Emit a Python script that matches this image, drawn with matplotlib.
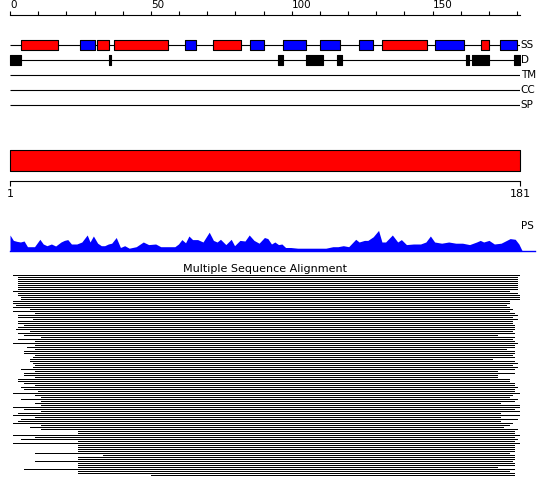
import numpy as np
import matplotlib
matplotlib.use("Agg")
from matplotlib import pyplot as plt

plt.rcParams["font.family"] = "DejaVu Sans"

seq_len = 181

# secondary structure: helices (red) and strands (blue), residue ranges
helix_start = [4, 31, 37, 72, 132, 167]
helix_end = [17, 35, 56, 82, 148, 170]
strand_start = [25, 62, 85, 97, 110, 124, 151, 174]
strand_end = [30, 66, 90, 105, 117, 129, 161, 180]

# disordered regions
disorder_start = [0, 35, 95, 105, 116, 162, 164, 179]
disorder_end = [4, 36, 97, 111, 118, 163, 170, 181]

track_names = ["SS", "D", "TM", "CC", "SP"]

# PS profile (position, score)
ps_pos = [0, 1.2, 2.5, 3.7, 5.0, 6.2, 8.7, 10.6, 11.8, 13.1,
          14.7, 16.2, 18.1, 19.3, 20.5, 21.8, 23.7, 25.5, 27.4, 28.4,
          29.6, 31.1, 32.4, 33.6, 34.9, 36.1, 37.7, 39.2, 40.7, 42.3,
          44.8, 47.3, 49.2, 51.7, 53.5, 56.0, 58.5, 59.8, 61.0, 62.3,
          63.5, 64.8, 66.6, 68.5, 70.7, 72.2, 73.5, 74.7, 76.6, 78.5,
          79.7, 81.6, 83.4, 84.9, 86.6, 88.4, 90.3, 91.5, 92.8, 94.0,
          95.3, 96.5, 97.8, 99.6, 102.1, 104.6, 107.1, 109.6, 112.1, 114.6,
          116.4, 118.3, 120.2, 122.7, 123.9, 125.8, 127.0, 128.9, 130.8, 132.0,
          133.3, 135.7, 137.6, 138.9, 140.7, 143.2, 145.7, 147.6, 149.2, 150.7,
          153.2, 155.7, 158.2, 160.6, 163.1, 165.6, 166.9, 168.1, 170.0, 171.9,
          174.3, 177.5, 179.3, 180.6, 181.8]
ps_score = [16, 10.6, 9.6, 9, 10, 4.3, 4.3, 11.7, 7, 5.3,
            7, 5, 9, 10.6, 11.4, 7, 7, 9, 16, 9,
            15, 7.8, 5.3, 5.3, 7, 7.8, 13.5, 3.5, 5.3, 2.8,
            4.3, 9, 6.4, 7, 4.3, 4.3, 4.3, 7, 11.4, 8.2,
            15, 11.4, 11.4, 9, 18.8, 10.6, 9, 11.7, 6.4, 11.7,
            5.3, 10.6, 10, 16, 10.6, 7.8, 13.5, 12.4, 7, 9,
            6.4, 7, 3.5, 3.5, 2.8, 2.8, 2.8, 2.8, 2.8, 4.3,
            4.3, 5.3, 4.3, 11.7, 9, 10.6, 10.6, 14.2, 20.6, 9,
            9, 16, 9, 11.4, 6.4, 7, 7, 9, 15, 9,
            7.8, 9, 7.8, 7.8, 6.4, 9, 10.6, 9, 10.6, 7,
            7.8, 12.4, 11.7, 7, 0]

# multiple sequence alignment: first / last aligned residue of each hit
msa_start = [2, 4, 4, 4, 4, 4, 4, 4, 2, 4, 4, 5, 5, 2, 2, 3, 2, 8, 2, 10,
             4, 4, 9, 4, 4, 6, 4, 3, 8, 4, 6, 12, 4, 10, 2, 10, 7, 10, 6, 6,
             10, 9, 8, 8, 9, 10, 9, 5, 10, 6, 6, 10, 4, 4, 6, 10, 5, 6, 11, 2,
             10, 12, 5, 12, 10, 12, 2, 6, 12, 4, 2, 10, 5, 4, 2, 12, 8, 12, 25, 25,
             2, 10, 5, 25, 2, 25, 25, 25, 25, 10, 34, 25, 25, 10, 25, 25, 25, 6, 25, 25,
             51]
msa_end = [181, 180, 180, 180, 180, 180, 180, 180, 177, 180, 181, 181, 181, 177, 177, 176, 177, 178, 177, 179,
           180, 178, 180, 178, 178, 179, 179, 179, 178, 179, 173, 179, 178, 179, 180, 179, 179, 176, 179, 179,
           178, 179, 171, 179, 180, 178, 180, 179, 173, 179, 173, 173, 177, 177, 179, 179, 180, 179, 179, 181,
           178, 177, 180, 179, 174, 181, 181, 179, 181, 174, 181, 174, 180, 174, 178, 177, 175, 180, 179, 179,
           181, 179, 180, 179, 181, 179, 179, 179, 179, 177, 179, 179, 179, 178, 179, 179, 173, 179, 177, 179,
           179]

W, H = 550, 495
lw = 0.8


def box(x0, y0, x1, y1):
    # pixel box -> figure fraction
    return [x0 / W, 1 - y1 / H, (x1 - x0) / W, (y1 - y0) / H]


fig = plt.figure(figsize=(W / 100, H / 100), dpi=100)

# ---- feature tracks with residue ruler on top ----
ax = fig.add_axes(box(10, 15, 520, 115))
ax.set_xlim(0, seq_len)
ax.set_ylim(100, 0)
for s in ["bottom", "left", "right"]:
    ax.spines[s].set_visible(False)
ax.spines["top"].set_linewidth(lw)
ax.xaxis.tick_top()
ax.set_xticks(np.arange(0, 151, 50))
ax.set_xticks(np.arange(0, 181, 10), minor=True)
ax.tick_params(axis="x", which="both", direction="out", length=3, width=lw,
               pad=0.5, labelsize=7.5, top=True, bottom=False)
for lbl in ax.get_xticklabels():
    lbl.set_horizontalalignment("left")
ax.set_yticks([])

track_y = [30, 45, 60, 75, 90]
ax.hlines(track_y, 0, seq_len, color="black", lw=lw)
for name, y in zip(track_names, track_y):
    ax.text(seq_len + 0.3, y, name, va="center", ha="left", fontsize=7.5,
            clip_on=False)

ax.broken_barh([(s, e - s) for s, e in zip(helix_start, helix_end)], (track_y[0] - 5, 10),
               facecolors="#ff0000", edgecolors="black", lw=lw, zorder=3)
ax.broken_barh([(s, e - s) for s, e in zip(strand_start, strand_end)], (track_y[0] - 5, 10),
               facecolors="#0000ff", edgecolors="black", lw=lw, zorder=3)
ax.broken_barh([(s, e - s) for s, e in zip(disorder_start, disorder_end)], (track_y[1] - 5, 10),
               facecolors="black", edgecolors="black", lw=lw, zorder=3, clip_on=False)

# ---- query bar and scale ----
ax = fig.add_axes(box(10, 150, 520, 181))
ax.set_xlim(0, seq_len)
ax.set_ylim(31, 0)
for s in ["top", "left", "right"]:
    ax.spines[s].set_visible(False)
ax.spines["bottom"].set_linewidth(lw)
ax.broken_barh([(0, seq_len)], (0, 20.5), facecolors="#ff0000", edgecolors="black",
               lw=lw, clip_on=False)
ax.set_xticks([0, seq_len], ["1", str(seq_len)])
ax.tick_params(axis="x", direction="out", length=3.5, width=lw, pad=2, labelsize=8)
ax.set_yticks([])

# ---- PS profile ----
ax = fig.add_axes(box(10, 221, 535, 251))
ax.set_xlim(0, (535 - 10) / (510 / seq_len))
ax.set_ylim(0, 30)
ax.axis("off")
ax.fill_between(ps_pos, ps_score, color="#0000ff", lw=0)
ax.axhline(0, color="#0000ff", lw=1, clip_on=False)
ax.text(seq_len + 0.3, 25, "PS", va="center", ha="left", fontsize=7.5)

# ---- MSA: one 1px row every 2px ----
n = len(msa_start)
ax = fig.add_axes(box(10, 274, 520, 274 + 2 * n))
ax.set_xlim(0, seq_len)
ax.set_ylim(n + 0.75, 0.75)
ax.axis("off")
rows = np.arange(1, n + 1)
ax.hlines(rows, np.array(msa_start) - 1, msa_end, color="black", lw=0.72,
          antialiased=False)
ax.text(0.5, 1.0, "Multiple Sequence Alignment", transform=ax.transAxes,
        ha="center", va="bottom", fontsize=8)

fig.savefig("out.png", dpi=100)
